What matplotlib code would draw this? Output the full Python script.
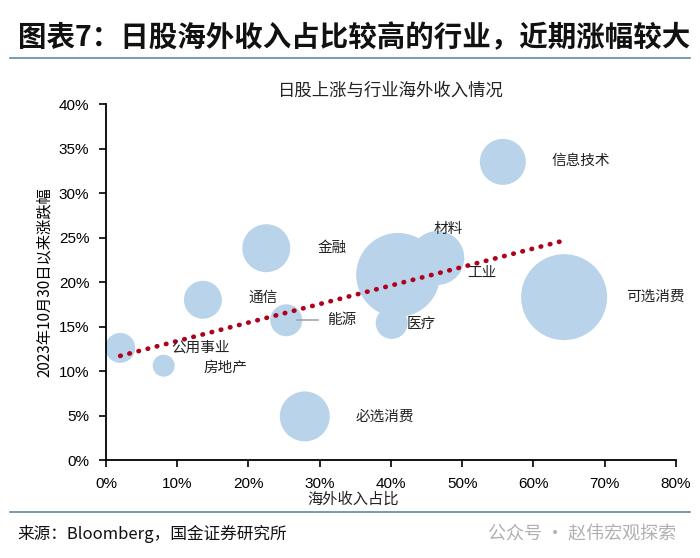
import matplotlib.pyplot as plt
from matplotlib.ticker import PercentFormatter

plt.rcParams['font.family'] = ['Noto Sans CJK SC', 'DejaVu Sans']

# données
secteurs = ['公用事业', '房地产', '通信', '金融', '能源', '必选消费',
            '工业', '材料', '医疗', '信息技术', '可选消费']
part_etranger = [2.0, 8.1, 13.6, 22.5, 25.3, 27.9, 41.0, 46.5, 40.1, 55.7, 64.3]  # %
hausse = [12.6, 10.6, 18.0, 23.8, 15.7, 4.9, 20.8, 22.7, 15.4, 33.5, 18.3]  # %
taille = [2.25, 1.21, 3.61, 5.76, 2.56, 6.25, 17.6, 7.3, 2.56, 5.3, 18.5]  # taille relative des bulles

# ligne de tendance (extrémités lues)
tendance_x = [2.0, 64.0]
tendance_y = [11.7, 24.6]

# position des étiquettes (x, y, alignement)
pos_labels = {
    '公用事业': (13.2, 12.6, 'center'),
    '房地产': (16.7, 10.4, 'center'),
    '通信': (22.0, 18.2, 'center'),
    '金融': (31.7, 23.8, 'center'),
    '能源': (31.0, 15.7, 'left'),
    '必选消费': (35.0, 4.9, 'left'),
    '工业': (52.8, 21.0, 'center'),
    '材料': (48.1, 26.0, 'center'),
    '医疗': (44.2, 15.3, 'center'),
    '信息技术': (62.5, 33.6, 'left'),
    '可选消费': (73.0, 18.3, 'left'),
}

fig = plt.figure(figsize=(7, 5.58), dpi=100)
ax = fig.add_axes([0.1514, 0.1756, 0.8143, 0.638])

ax.scatter(part_etranger, hausse, s=[t * 207 for t in taille], color='#b9d3ea',
           edgecolors='none', zorder=2)
ax.plot(tendance_x, tendance_y, linestyle=(0, (0.1, 1.9)), dash_capstyle='round',
        color='#b0001c', linewidth=3.4, zorder=3)

for nom in secteurs:
    x, y, ha = pos_labels[nom]
    ax.text(x, y, nom, ha=ha, va='center', fontsize=10.5, color='#222222', zorder=4)
# trait de rappel pour 能源
ax.plot([26.8, 29.7], [15.7, 15.7], color='#a6a6a6', linewidth=1.2, zorder=4)

ax.set_xlim(0, 80)
ax.set_ylim(0, 40)
ax.set_xticks(range(0, 81, 10))
ax.set_yticks(range(0, 41, 5))
ax.xaxis.set_major_formatter(PercentFormatter(decimals=0))
ax.yaxis.set_major_formatter(PercentFormatter(decimals=0))
for lab in ax.get_xticklabels() + ax.get_yticklabels():
    lab.set_family(['Liberation Sans', 'DejaVu Sans'])
    lab.set_fontsize(11)
ax.tick_params(direction='out', length=5, width=1.2, color='black', pad=7)
ax.spines['top'].set_visible(False)
ax.spines['right'].set_visible(False)
ax.spines['left'].set_linewidth(1.3)
ax.spines['bottom'].set_linewidth(1.3)

ax.set_title('日股上涨与行业海外收入情况', fontsize=12.5, pad=6, color='#222222')
ax.set_ylabel('2023年10月30日以来涨跌幅', fontsize=11, labelpad=4)
ax.text(0.353, -0.085, '海外收入占比', transform=ax.transAxes, ha='left', va='top',
        fontsize=11, color='#222222')

# titre du document et pied de page
fig.text(0.025, 0.932, '图表7：日股海外收入占比较高的行业，近期涨幅较大', fontsize=20.5,
         fontweight='bold', fontstyle='italic', va='center', color='#111111')
fig.add_artist(plt.Line2D([0.014, 0.986], [0.896, 0.896], color='#5f8aa6', linewidth=1.2))
fig.add_artist(plt.Line2D([0.014, 0.986], [0.082, 0.082], color='#5f8aa6', linewidth=1.2))
fig.text(0.025, 0.043, '来源：Bloomberg，国金证券研究所', fontsize=12, va='center', color='#111111')
fig.text(0.966, 0.043, '公众号 · 赵伟宏观探索', fontsize=13, va='center', ha='right', color='#b0b0b0')

fig.savefig('out.png', dpi=100)
